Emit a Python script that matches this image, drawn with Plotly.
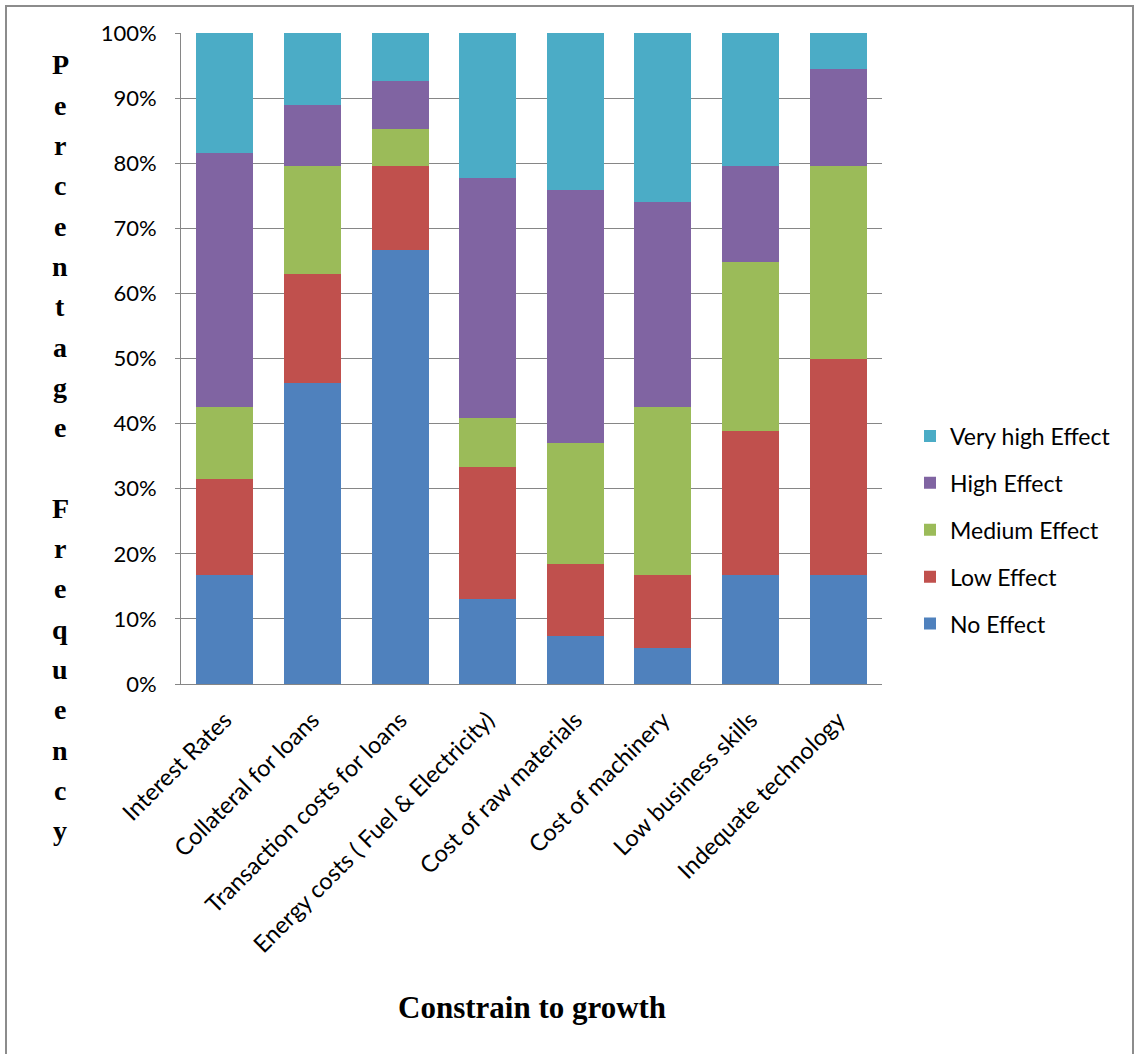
import plotly.graph_objects as go

categories = ["Interest Rates", "Collateral for loans", "Transaction costs for loans",
              "Energy costs ( Fuel & Electricity)", "Cost of raw materials",
              "Cost of machinery", "Low business skills", "Indequate technology"]

no_effect = [16.7, 46.3, 66.7, 13.0, 7.4, 5.6, 16.7, 16.7]
low_effect = [14.8, 16.7, 13.0, 20.4, 11.1, 11.1, 22.2, 33.3]
medium_effect = [11.1, 16.7, 5.6, 7.4, 18.5, 25.9, 25.9, 29.6]
high_effect = [38.9, 9.3, 7.4, 37.0, 38.9, 31.5, 14.8, 14.8]
very_high_effect = [18.5, 11.1, 7.4, 22.2, 24.1, 25.9, 20.4, 5.6]

series = [
    ("No Effect", no_effect, "#4F81BD"),
    ("Low Effect", low_effect, "#C0504D"),
    ("Medium Effect", medium_effect, "#9BBB59"),
    ("High Effect", high_effect, "#8064A2"),
    ("Very high Effect", very_high_effect, "#4BACC6"),
]

y_title = "Percentage Frequency"
x_title = "Constrain to growth"

fig = go.Figure()
n = len(series)
for i, (name, vals, color) in enumerate(series):
    fig.add_trace(go.Bar(x=categories, y=vals, name=name, marker_color=color,
                         marker_line_width=0, legendgroup=f"g{i}",
                         legendrank=n - i))

W, H = 1138, 1054
L, R, T, B = 181, 256, 33, 370
pw, ph = W - L - R, H - T - B

def px_to_paper_x(px):
    return (px - L) / pw

def px_to_paper_y(py):
    return (H - B - py) / ph

fig.update_layout(
    width=W, height=H,
    margin=dict(l=L, r=R, t=T, b=B),
    barmode="stack", barnorm="percent", bargap=0.35,
    plot_bgcolor="white", paper_bgcolor="white",
    font=dict(family="Lato, Carlito, sans-serif", color="black"),
    legend=dict(x=px_to_paper_x(910), y=px_to_paper_y(530), yanchor="middle", xanchor="left",
                traceorder="grouped", tracegroupgap=14,
                font=dict(size=23, family="Lato, sans-serif"),
                itemwidth=30),
    xaxis=dict(tickangle=-45, tickfont=dict(size=23.5), showline=True, linecolor="#868686",
               ticks="", showgrid=False, ticklabelstandoff=12),
    yaxis=dict(range=[0, 100], dtick=10, ticksuffix="%", tickfont=dict(size=22),
               showgrid=True, gridcolor="#868686", gridwidth=1,
               showline=True, linecolor="#868686", ticks="outside", ticklen=5,
               tickcolor="#868686", zeroline=False, ticklabelstandoff=14),
    showlegend=True,
)

# Vertical y-axis title, one letter per row
row = 0
for ch in y_title:
    if ch != " ":
        py = 65 + row * 40.3
        fig.add_annotation(text=f"<b>{ch}</b>", x=px_to_paper_x(60), y=px_to_paper_y(py),
                           xref="paper", yref="paper", showarrow=False,
                           font=dict(family="Liberation Serif, Times New Roman, serif", size=28),
                           xanchor="center", yanchor="middle")
    row += 1

fig.add_annotation(text=f"<b>{x_title}</b>", x=px_to_paper_x(532), y=px_to_paper_y(1007),
                   xref="paper", yref="paper", showarrow=False,
                   font=dict(family="Liberation Serif, Times New Roman, serif", size=31),
                   xanchor="center", yanchor="middle")

fig.add_shape(type="rect", xref="paper", yref="paper",
              x0=px_to_paper_x(6), x1=px_to_paper_x(1133),
              y0=px_to_paper_y(1070), y1=px_to_paper_y(6),
              line=dict(color="#8c8c8c", width=2), fillcolor="rgba(0,0,0,0)", layer="below")

fig.write_html("out.html")
